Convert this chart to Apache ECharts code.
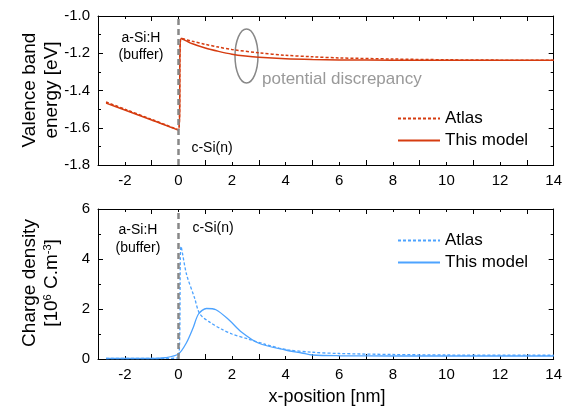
<!DOCTYPE html>
<html>
<head>
<meta charset="utf-8">
<script src="https://cdn.jsdelivr.net/npm/echarts@6/dist/echarts.min.js"></script>
<style>
  html, body { margin: 0; padding: 0; background: #fff; }
  #chart { width: 565px; height: 411px; }
</style>
</head>
<body>
<div id="chart"></div>
<script>
// valence band energy [eV] vs x [nm]
const vbAtlas = [[-2.7, -1.462], [-2, -1.5], [-1, -1.555], [0, -1.61], [0.1, -1.12], [0.5, -1.135],
  [1, -1.152], [1.5, -1.167], [2, -1.18], [3, -1.198], [4, -1.211], [5, -1.219], [6, -1.225],
  [8, -1.231], [10, -1.235], [12, -1.237], [14, -1.238]];
const vbModel = [[-2.7, -1.468], [-2, -1.505], [-1, -1.558], [0, -1.612], [0.1, -1.12], [0.5, -1.148],
  [1, -1.172], [1.5, -1.19], [2, -1.205], [2.5, -1.215], [3, -1.222], [4, -1.23], [5, -1.234],
  [6, -1.236], [8, -1.237], [10, -1.238], [14, -1.238]];

// charge density [1e6 C/m3]
const rhoAtlas = [[-2.7, 0.02], [-1, 0.02], [0, 0.05], [0.1, 4.5], [0.3, 3.4], [0.6, 2.45], [0.8, 1.8],
  [1.2, 1.45], [1.6, 1.2], [2, 1.0], [2.6, 0.8], [3.2, 0.6], [4, 0.38], [5, 0.27], [6, 0.22],
  [8, 0.18], [10, 0.16], [14, 0.15]];
const rhoModel = [[-2.7, 0.02], [-1, 0.02], [-0.5, 0.05], [0, 0.2], [0.3, 0.65], [0.55, 1.25], [0.75, 1.8],
  [1.05, 2.02], [1.4, 1.97], [1.9, 1.55], [2.35, 1.08], [3, 0.63], [4, 0.36], [4.6, 0.24], [5, 0.16],
  [6, 0.13], [8, 0.12], [14, 0.12]];

const xTicks = { min: -3, max: 14, interval: 2 };
const red = '#d63c10';
const blue = '#4da3ff';
const font = 'Liberation Sans, Arial, sans-serif';

const chart = echarts.init(document.getElementById('chart'));

function xAx(grid, show) {
  return {
    type: 'value', gridIndex: grid, min: xTicks.min, max: xTicks.max, interval: xTicks.interval,
    position: show ? 'bottom' : 'top',
    axisLine: { onZero: false, lineStyle: { color: '#000', width: 1 } },
    axisTick: { inside: true, length: 5, lineStyle: { color: '#000' } },
    minorTick: { show: true, splitNumber: 2, length: 3, lineStyle: { color: '#000' } },
    splitLine: { show: false },
    axisLabel: {
      show: show, color: '#000', fontSize: 15, fontFamily: font, margin: 8,
      customValues: [-2, 0, 2, 4, 6, 8, 10, 12, 14]
    }
  };
}
function yAx(grid, min, max, interval, show, decimals) {
  return {
    type: 'value', gridIndex: grid, min: min, max: max, interval: interval,
    position: show ? 'left' : 'right',
    axisLine: { show: true, onZero: false, lineStyle: { color: '#000', width: 1 } },
    axisTick: { inside: true, length: 5, lineStyle: { color: '#000' } },
    minorTick: { show: true, splitNumber: 2, length: 3, lineStyle: { color: '#000' } },
    splitLine: { show: false },
    axisLabel: {
      show: show, color: '#000', fontSize: 15, fontFamily: font, margin: 8,
      formatter: v => v.toFixed(decimals)
    }
  };
}

const vline = {
  silent: true, symbol: 'none', label: { show: false },
  lineStyle: { color: '#888', type: [6, 4], width: 2.5 },
  data: [{ xAxis: 0 }]
};

const legendText = { color: '#000', fontSize: 17, fontFamily: font };

chart.setOption({
  animation: false,
  grid: [
    { left: 98, top: 16, width: 458, height: 149 },
    { left: 98, top: 209, width: 458, height: 150 }
  ],
  xAxis: [xAx(0, true), xAx(0, false), xAx(1, true), xAx(1, false)],
  yAxis: [
    yAx(0, -1.8, -1.0, 0.2, true, 1), yAx(0, -1.8, -1.0, 0.2, false, 1),
    yAx(1, 0, 6, 2, true, 0), yAx(1, 0, 6, 2, false, 0)
  ],
  legend: [
    {
      left: 392, top: 105, orient: 'vertical', itemGap: 5, itemWidth: 42, itemHeight: 14,
      itemStyle: { opacity: 0 },
      textStyle: legendText, data: ['Atlas', 'This model']
    },
    {
      left: 392, top: 227, orient: 'vertical', itemGap: 5, itemWidth: 42, itemHeight: 14,
      itemStyle: { opacity: 0 },
      textStyle: legendText, data: ['Atlas ', 'This model ']
    }
  ],
  series: [
    {
      name: 'Atlas', type: 'line', xAxisIndex: 0, yAxisIndex: 0, data: vbAtlas, symbol: 'none',
      smooth: 0.3, lineStyle: { color: red, width: 1.5, type: [3, 2] }, itemStyle: { color: red }
    },
    {
      name: 'This model', type: 'line', xAxisIndex: 0, yAxisIndex: 0, data: vbModel, symbol: 'none',
      smooth: 0.3, lineStyle: { color: red, width: 1.5 }, itemStyle: { color: red },
      markLine: vline
    },
    {
      name: 'Atlas ', type: 'line', xAxisIndex: 2, yAxisIndex: 2, data: rhoAtlas, symbol: 'none',
      smooth: 0.3, lineStyle: { color: blue, width: 1.3, type: [3, 2] }, itemStyle: { color: blue }
    },
    {
      name: 'This model ', type: 'line', xAxisIndex: 2, yAxisIndex: 2, data: rhoModel, symbol: 'none',
      smooth: 0.3, lineStyle: { color: blue, width: 1.3 }, itemStyle: { color: blue },
      markLine: vline
    }
  ],
  graphic: [
    {
      type: 'text', x: 30, y: 90, rotation: Math.PI / 2,
      style: { text: 'Valence band', fontSize: 19, fontFamily: font, fill: '#000', align: 'center', verticalAlign: 'middle' }
    },
    {
      type: 'text', x: 52, y: 90, rotation: Math.PI / 2,
      style: { text: 'energy [eV]', fontSize: 19, fontFamily: font, fill: '#000', align: 'center', verticalAlign: 'middle' }
    },
    {
      type: 'text', x: 30, y: 283, rotation: Math.PI / 2,
      style: { text: 'Charge density', fontSize: 19, fontFamily: font, fill: '#000', align: 'center', verticalAlign: 'middle' }
    },
    {
      type: 'text', x: 52, y: 283, rotation: Math.PI / 2,
      style: {
        text: '[10{s|6} C.m{s|-3}]', fontSize: 19, fontFamily: font, fill: '#000', align: 'center', verticalAlign: 'middle',
        rich: { s: { fontSize: 11, fontFamily: font, verticalAlign: 'top', padding: [0, 0, 8, 0] } }
      }
    },
    {
      type: 'text', x: 327, y: 397,
      style: { text: 'x-position [nm]', fontSize: 18, fontFamily: font, fill: '#000', align: 'center', verticalAlign: 'middle' }
    },
    { type: 'text', x: 141, y: 38, style: { text: 'a-Si:H', fontSize: 14, fontFamily: font, fill: '#000', align: 'center', verticalAlign: 'middle' } },
    { type: 'text', x: 141, y: 55, style: { text: '(buffer)', fontSize: 14, fontFamily: font, fill: '#000', align: 'center', verticalAlign: 'middle' } },
    { type: 'text', x: 212, y: 148, style: { text: 'c-Si(n)', fontSize: 14, fontFamily: font, fill: '#000', align: 'center', verticalAlign: 'middle' } },
    { type: 'text', x: 138, y: 230, style: { text: 'a-Si:H', fontSize: 14, fontFamily: font, fill: '#000', align: 'center', verticalAlign: 'middle' } },
    { type: 'text', x: 138, y: 248, style: { text: '(buffer)', fontSize: 14, fontFamily: font, fill: '#000', align: 'center', verticalAlign: 'middle' } },
    { type: 'text', x: 213, y: 228, style: { text: 'c-Si(n)', fontSize: 14, fontFamily: font, fill: '#000', align: 'center', verticalAlign: 'middle' } },
    { type: 'text', x: 262, y: 79, style: { text: 'potential discrepancy', fontSize: 17, fontFamily: font, fill: '#999', align: 'left', verticalAlign: 'middle' } },
    { type: 'ellipse', shape: { cx: 246.5, cy: 56, rx: 11.5, ry: 27 }, style: { fill: 'none', stroke: '#888', lineWidth: 1.5 } }
  ]
});
</script>
</body>
</html>
